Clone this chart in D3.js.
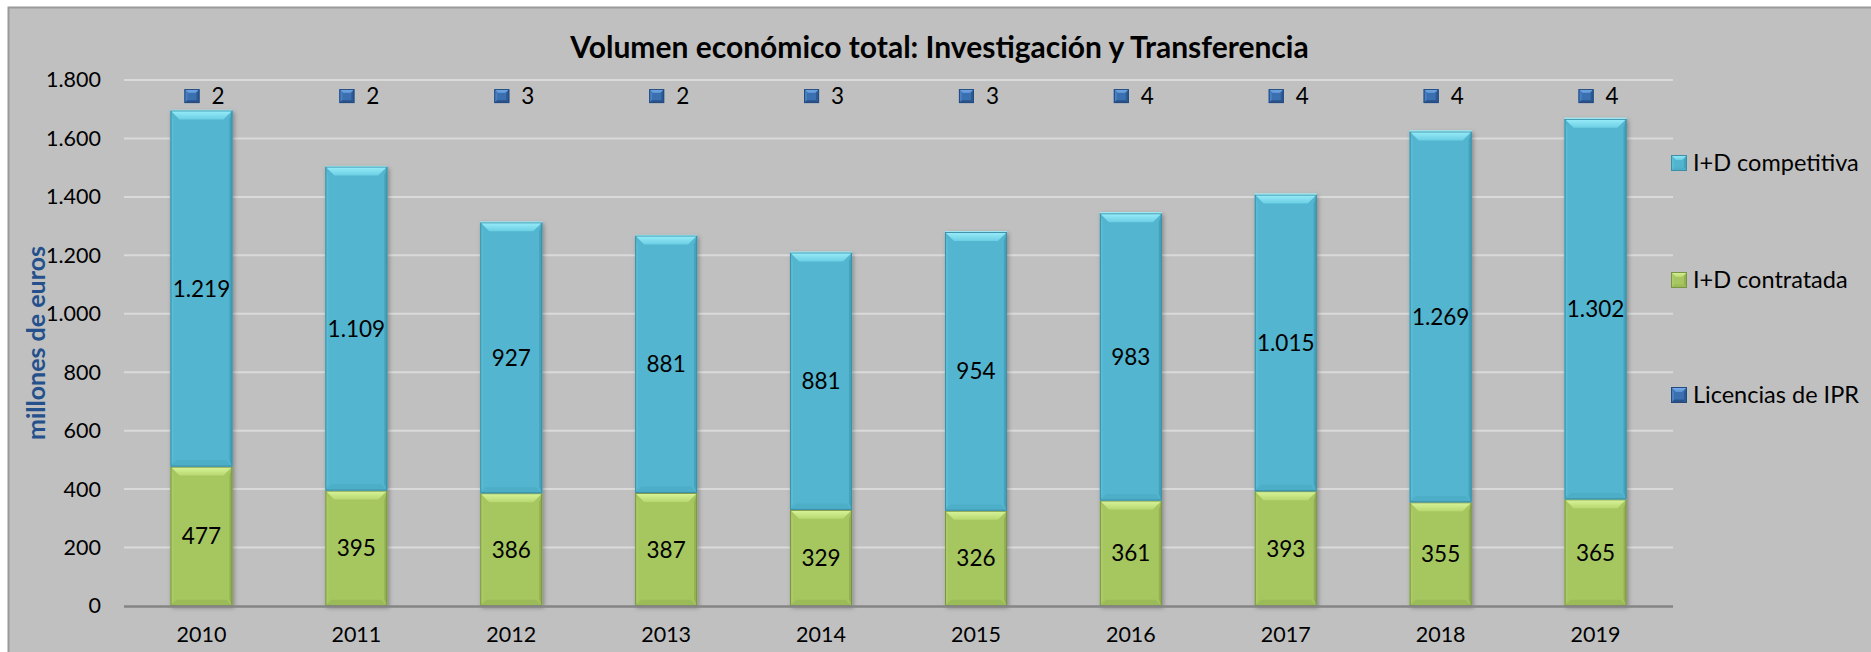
<!DOCTYPE html>
<html>
<head>
<meta charset="utf-8">
<script src="https://cdn.jsdelivr.net/npm/d3@7/dist/d3.min.js"></script>
<style>
  html, body { margin: 0; padding: 0; background: #ffffff; }
  svg { display: block; }
  text { font-family: Lato, "Open Sans", "Liberation Sans", sans-serif; fill: #000; }
</style>
</head>
<body>
<svg id="chart" width="1871" height="652"></svg>
<script>
// ---------- DATA ----------
const years = ["2010","2011","2012","2013","2014","2015","2016","2017","2018","2019"];
const contratada = [477, 395, 386, 387, 329, 326, 361, 393, 355, 365];
const competitiva = [1219, 1109, 927, 881, 881, 954, 983, 1015, 1269, 1302];
const licencias = [2, 2, 3, 2, 3, 3, 4, 4, 4, 4];
const yTicks = [0, 200, 400, 600, 800, 1000, 1200, 1400, 1600, 1800];
const seriesNames = ["I+D competitiva", "I+D contratada", "Licencias de IPR"];
const titleText = "Volumen económico total: Investigación y Transferencia";
const yAxisTitle = "millones de euros";

// ---------- LAYOUT ----------
const W = 1871, H = 652;
const plot = { left: 124, right: 1673, top: 80, bottom: 606 };
const svg = d3.select("#chart");

const loc = d3.formatLocale({ decimal: ",", thousands: ".", grouping: [3], currency: ["", "€"] });
const fmt = loc.format(",d");

const x = d3.scaleBand().domain(years).range([plot.left, plot.right])
  .paddingInner(0.6).paddingOuter(0.3);
const y = d3.scaleLinear().domain([0, 1800]).range([plot.bottom, plot.top]);

// chart background
svg.append("rect").attr("x", 8).attr("y", 7).attr("width", W - 8).attr("height", H - 7)
  .attr("fill", "#c0c0c0");
svg.append("path").attr("d", `M8.5,${H} L8.5,7.5 L${W},7.5`).attr("fill", "none")
  .attr("stroke", "#9a9a9a").attr("stroke-width", 2);

// defs
const defs = svg.append("defs");
const f = defs.append("filter").attr("id", "shadow").attr("x", "-20%").attr("y", "-5%")
  .attr("width", "140%").attr("height", "115%");
f.append("feDropShadow").attr("dx", 1.5).attr("dy", 2).attr("stdDeviation", 2)
  .attr("flood-color", "#000").attr("flood-opacity", 0.3);

function vgrad(id, c1, c2) {
  const g = defs.append("linearGradient").attr("id", id).attr("x1", 0).attr("y1", 0).attr("x2", 0).attr("y2", 1);
  g.append("stop").attr("offset", "0%").attr("stop-color", c1);
  g.append("stop").attr("offset", "100%").attr("stop-color", c2);
}
const palette = {
  comp: { main: "#52b5cf", top: "#9aedf9", top2: "#6ccfe4", bottom: "#4eaec8", left: "#5abdd6", right: "#44a2bb", edge: "#3c8fa7" },
  cont: { main: "#a6c661", top: "#daf59c", top2: "#b8d870", bottom: "#9bba58", left: "#adcc68", right: "#93b052", edge: "#7a9444" },
  ipr:  { main: "#3b70b0", top: "#80b4ee", top2: "#5a8fd0", bottom: "#2a5288", left: "#4a80c2", right: "#2d5a94", edge: "#234a80" }
};
Object.entries(palette).forEach(([k, p]) => {
  vgrad("top-" + k, p.top, p.top2);
});

function bevelRect(g, x0, y0, w, h, key, b) {
  const p = palette[key];
  b = Math.min(b, h / 2, w / 2);
  g.append("rect").attr("x", x0).attr("y", y0).attr("width", w).attr("height", h).attr("fill", p.main);
  if (h < 2) return;
  const s = Math.min(3, w / 4);
  const bb = b * 0.7;
  g.append("polygon").attr("points", [[x0, y0], [x0 + s, y0 + b], [x0 + s, y0 + h - bb], [x0, y0 + h]].join(" ")).attr("fill", p.left);
  g.append("polygon").attr("points", [[x0 + w, y0], [x0 + w - s, y0 + b], [x0 + w - s, y0 + h - bb], [x0 + w, y0 + h]].join(" ")).attr("fill", p.right);
  g.append("polygon").attr("points", [[x0, y0 + h], [x0 + w, y0 + h], [x0 + w - bb, y0 + h - bb], [x0 + bb, y0 + h - bb]].join(" ")).attr("fill", p.bottom);
  g.append("polygon").attr("points", [[x0, y0], [x0 + w, y0], [x0 + w - b, y0 + b], [x0 + b, y0 + b]].join(" ")).attr("fill", `url(#top-${key})`);
  g.append("rect").attr("x", x0 + 0.5).attr("y", y0 + 0.5).attr("width", w - 1).attr("height", h - 1)
    .attr("fill", "none").attr("stroke", p.edge).attr("stroke-width", 1);
}

// gridlines
svg.append("g").selectAll("line").data(yTicks.filter(d => d > 0)).join("line")
  .attr("x1", plot.left).attr("x2", plot.right)
  .attr("y1", d => y(d)).attr("y2", d => y(d))
  .attr("stroke", "#dadada").attr("stroke-width", 2);

// y axis (labels only)
const yAxis = d3.axisLeft(y).tickValues(yTicks).tickFormat(fmt).tickSize(0).tickPadding(0);
const yg = svg.append("g").attr("transform", `translate(${plot.left - 23},0)`).call(yAxis);
yg.select(".domain").remove();
yg.selectAll("text").style("font-size", "21.5px").attr("fill", "#000")
  .style("font-family", "Lato, 'Open Sans', sans-serif");

// bars
const barsG = svg.append("g");
years.forEach((yr, i) => {
  const bx = x(yr), bw = x.bandwidth();
  const g = barsG.append("g").attr("filter", "url(#shadow)");
  const c0 = 0, c1 = contratada[i], c2 = c1 + competitiva[i], c3 = c2 + licencias[i];
  bevelRect(g, bx, y(c1), bw, y(c0) - y(c1), "cont", 9);
  bevelRect(g, bx, y(c2), bw, y(c1) - y(c2), "comp", 9);
  g.append("rect").attr("x", bx).attr("y", y(c3)).attr("width", bw).attr("height", y(c2) - y(c3))
    .attr("fill", palette.comp.top);
});

// x baseline
svg.append("line").attr("x1", plot.left).attr("x2", plot.right)
  .attr("y1", plot.bottom + 0.5).attr("y2", plot.bottom + 0.5)
  .attr("stroke", "#858585").attr("stroke-width", 2.5);

// x axis labels
const xAxis = d3.axisBottom(x).tickSize(0).tickPadding(0);
const xg = svg.append("g").attr("transform", `translate(0,${plot.bottom + 21})`).call(xAxis);
xg.select(".domain").remove();
xg.selectAll("text").style("font-size", "21.5px").attr("fill", "#000")
  .style("font-family", "Lato, 'Open Sans', sans-serif");

// data labels
const labG = svg.append("g").style("font-size", "22.5px");
years.forEach((yr, i) => {
  const cx = x(yr) + x.bandwidth() / 2;
  const c1 = contratada[i], c2 = c1 + competitiva[i];
  labG.append("text").attr("x", cx).attr("y", y(c1 / 2)).attr("dy", "0.36em")
    .attr("text-anchor", "middle").text(fmt(contratada[i]));
  labG.append("text").attr("x", cx).attr("y", y((c1 + c2) / 2)).attr("dy", "0.36em")
    .attr("text-anchor", "middle").text(fmt(competitiva[i]));
  // IPR label with legend key
  const ly = y(1745);
  const kg = labG.append("g");
  bevelRect(kg, cx - 17, ly - 7, 15, 14, "ipr", 4);
  labG.append("text").attr("x", cx + 10).attr("y", ly).attr("dy", "0.36em")
    .attr("text-anchor", "start").text(fmt(licencias[i]));
});

// title
svg.append("text").attr("x", (8 + W) / 2).attr("y", 58).attr("text-anchor", "middle")
  .style("font-size", "30px").style("font-weight", "bold").text(titleText);

// y axis title
svg.append("text").attr("transform", `translate(45,${(plot.top + plot.bottom) / 2}) rotate(-90)`)
  .attr("text-anchor", "middle").style("font-size", "25px").style("font-weight", "bold")
  .style("fill", "#24508c").text(yAxisTitle);

// legend
const legY = [163, 280, 395];
const legKeys = ["comp", "cont", "ipr"];
seriesNames.forEach((name, i) => {
  const g = svg.append("g");
  bevelRect(g, 1671, legY[i] - 8, 16, 16, legKeys[i], 5);
  svg.append("text").attr("x", 1693).attr("y", legY[i]).attr("dy", "0.36em")
    .style("font-size", "23.5px").text(name);
});
</script>
</body>
</html>
